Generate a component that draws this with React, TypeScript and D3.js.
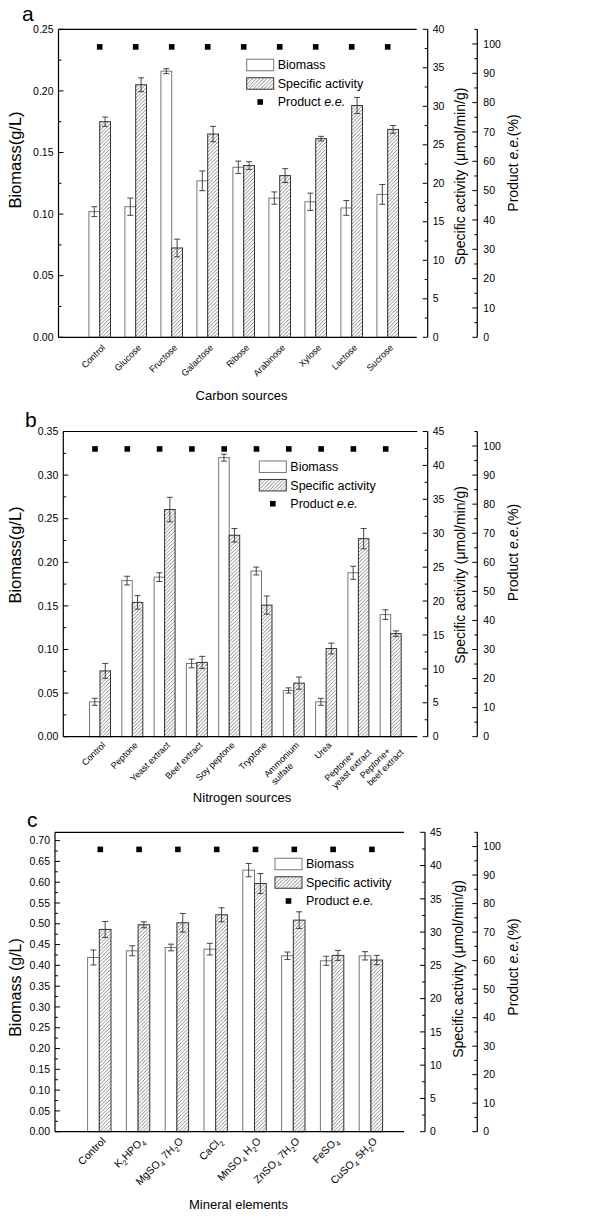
import React from "react";
import * as d3 from "d3";

const FONT = '"Liberation Sans", Arial, Helvetica, sans-serif';

// ---------- Panel a: carbon sources ----------
const carbonCategories = ["Control", "Glucose", "Fructose", "Galactose", "Ribose", "Arabinose", "Xylose", "Lactose", "Sucrose"];
const carbonBiomass = [0.102, 0.106, 0.216, 0.127, 0.138, 0.113, 0.110, 0.105, 0.116];
const carbonBiomassErr = [0.004, 0.007, 0.002, 0.008, 0.005, 0.005, 0.007, 0.006, 0.008];
const carbonActivity = [28.0, 32.8, 11.6, 26.4, 22.3, 21.0, 25.8, 30.1, 27.0];
const carbonActivityErr = [0.6, 0.9, 1.15, 1.0, 0.5, 0.9, 0.3, 1.05, 0.5];
const carbonEe = [99, 99, 99, 99, 99, 99, 99, 99, 99];
const carbonBiomassTicks = [0, 0.05, 0.1, 0.15, 0.2, 0.25];
const carbonActivityTicks = [0, 5, 10, 15, 20, 25, 30, 35, 40];

// ---------- Panel b: nitrogen sources ----------
const nitrogenCategories = ["Control", "Peptone", "Yeast extract", "Beef extract", "Soy peptone", "Tryptone", "Ammonium\nsulfate", "Urea", "Peptone+\nyeast extract", "Peptone+\nbeef extract"];
const nitrogenBiomass = [0.040, 0.179, 0.183, 0.084, 0.320, 0.190, 0.053, 0.040, 0.188, 0.140];
const nitrogenBiomassErr = [0.004, 0.005, 0.005, 0.005, 0.004, 0.0045, 0.003, 0.004, 0.0075, 0.0055];
const nitrogenActivity = [9.7, 19.8, 33.5, 10.95, 29.7, 19.4, 7.9, 13.0, 29.2, 15.2];
const nitrogenActivityErr = [1.1, 1.0, 1.8, 0.9, 1.0, 1.35, 0.9, 0.8, 1.5, 0.4];
const nitrogenEe = [99, 99, 99, 99, 99, 99, 99, 99, 99, 99];
const nitrogenBiomassTicks = [0, 0.05, 0.1, 0.15, 0.2, 0.25, 0.3, 0.35];
const nitrogenActivityTicks = [0, 5, 10, 15, 20, 25, 30, 35, 40, 45];

// ---------- Panel c: mineral elements ----------
const mineralCategories = ["Control", "K_2HPO_4", "MgSO_4 7H_2O", "CaCl_2", "MnSO_4 H_2O", "ZnSO_4 7H_2O", "FeSO_4", "CuSO_4 5H_2O"];
const mineralBiomass = [0.419, 0.435, 0.443, 0.439, 0.629, 0.423, 0.411, 0.423];
const mineralBiomassErr = [0.018, 0.012, 0.008, 0.014, 0.016, 0.009, 0.011, 0.010];
const mineralActivity = [30.4, 31.1, 31.4, 32.6, 37.3, 31.8, 26.5, 25.8];
const mineralActivityErr = [1.2, 0.45, 1.4, 1.05, 1.5, 1.25, 0.75, 0.7];
const mineralEe = [99, 99, 99, 99, 99, 99, 99, 99];
const mineralBiomassTicks = [0, 0.05, 0.1, 0.15, 0.2, 0.25, 0.3, 0.35, 0.4, 0.45, 0.5, 0.55, 0.6, 0.65, 0.7];
const mineralActivityTicks = [0, 5, 10, 15, 20, 25, 30, 35, 40, 45];

const eeTicks = [0, 10, 20, 30, 40, 50, 60, 70, 80, 90, 100];

type Cfg = {
  id: string;
  letter: string;
  letterPos: [number, number];
  categories: string[];
  biomass: number[];
  biomassErr: number[];
  activity: number[];
  activityErr: number[];
  ee: number[];
  biomassTicks: number[];
  biomassMax: number;
  biomassFmt: string;
  activityTicks: number[];
  activityMax: number;
  eeMax: number;
  left: number;
  right: number;
  top: number;
  bottom: number;
  specX: number;
  prodX: number;
  firstCenter: number;
  step: number;
  barW: number;
  markerOffset: number;
  labelSize: number;
  labelDx: number;
  labelDy: number;
  xTitle: string;
  xTitlePos: [number, number];
  yTitle: string;
  yTitlePos: [number, number];
  yTitleSize: number;
  specTitlePos: [number, number];
  prodTitlePos: [number, number];
  legend: [number, number];
};

let measureCtx: CanvasRenderingContext2D | null = null;
function measure(text: string, size: number) {
  if (!measureCtx) {
    const c = document.createElement("canvas");
    measureCtx = c.getContext("2d");
  }
  if (!measureCtx) return text.length * size * 0.5;
  measureCtx.font = `${size}px "Liberation Sans", Arial, sans-serif`;
  return measureCtx.measureText(text).width;
}

function chem(label: string, size: number) {
  const parts = label.split(/(_\d)/).filter((p) => p.length > 0);
  let shift = 0;
  const sub = size * 0.3;
  return parts.map((p, i) => {
    if (p.startsWith("_")) {
      const dy = sub - shift;
      shift = sub;
      return (
        <tspan key={i} dy={dy} fontSize={size * 0.68}>
          {p.slice(1)}
        </tspan>
      );
    }
    const dy = -shift;
    shift = 0;
    return (
      <tspan key={i} dy={dy}>
        {p}
      </tspan>
    );
  });
}

function minors(ticks: number[], max: number) {
  const step = ticks[1] - ticks[0];
  const out: number[] = [];
  ticks.forEach((t) => {
    const m = t + step / 2;
    if (m <= max + 1e-9) out.push(m);
  });
  return out;
}

function Panel({ cfg }: { cfg: Cfg }) {
  const n = cfg.categories.length;
  const x = d3
    .scaleBand<string>()
    .domain(cfg.categories)
    .range([cfg.firstCenter - cfg.step / 2, cfg.firstCenter + cfg.step * (n - 0.5)])
    .padding(0);
  const cx = (c: string) => (x(c) as number) + x.bandwidth() / 2;
  const yB = d3.scaleLinear().domain([0, cfg.biomassMax]).range([cfg.bottom, cfg.top]);
  const yA = d3.scaleLinear().domain([0, cfg.activityMax]).range([cfg.bottom, cfg.top]);
  const yE = d3.scaleLinear().domain([0, cfg.eeMax]).range([cfg.bottom, cfg.top]);
  const fmtB = d3.format(cfg.biomassFmt);
  const w = cfg.barW;
  const cap = 3;
  const errColor = "#333";
  const tickLen = 5;
  const minorLen = 3;
  const tickFont = 10.5;
  const lh = cfg.labelSize * 1.15;

  return (
    <g>
      <text x={cfg.letterPos[0]} y={cfg.letterPos[1]} fontSize={21} fontFamily={FONT}>
        {cfg.letter}
      </text>

      {/* bars */}
      {cfg.categories.map((c, i) => {
        const c0 = cx(c);
        return (
          <g key={c}>
            <rect x={c0 - w} y={yB(cfg.biomass[i])} width={w} height={cfg.bottom - yB(cfg.biomass[i])} fill="#fff" stroke="#777" strokeWidth={1} />
            <rect x={c0} y={yA(cfg.activity[i])} width={w} height={cfg.bottom - yA(cfg.activity[i])} fill="url(#hatch)" stroke="#333" strokeWidth={1} />
            {(() => {
              const bx = c0 - w / 2;
              const y1 = yB(cfg.biomass[i] - cfg.biomassErr[i]);
              const y2 = yB(cfg.biomass[i] + cfg.biomassErr[i]);
              return (
                <g stroke={errColor} strokeWidth={0.9}>
                  <line x1={bx} x2={bx} y1={y1} y2={y2} />
                  <line x1={bx - cap} x2={bx + cap} y1={y1} y2={y1} />
                  <line x1={bx - cap} x2={bx + cap} y1={y2} y2={y2} />
                </g>
              );
            })()}
            {(() => {
              const bx = c0 + w / 2;
              const y1 = yA(cfg.activity[i] - cfg.activityErr[i]);
              const y2 = yA(cfg.activity[i] + cfg.activityErr[i]);
              return (
                <g stroke={errColor} strokeWidth={0.9}>
                  <line x1={bx} x2={bx} y1={y1} y2={y2} />
                  <line x1={bx - cap} x2={bx + cap} y1={y1} y2={y1} />
                  <line x1={bx - cap} x2={bx + cap} y1={y2} y2={y2} />
                </g>
              );
            })()}
            <rect x={c0 + cfg.markerOffset - 2.8} y={yE(cfg.ee[i]) - 2.8} width={5.6} height={5.6} fill="#000" />
          </g>
        );
      })}

      {/* frame: bottom and top lines, left axis */}
      <line x1={cfg.left} x2={cfg.right} y1={cfg.bottom} y2={cfg.bottom} stroke="#000" strokeWidth={1.2} />
      <line x1={cfg.left} x2={cfg.right} y1={cfg.top} y2={cfg.top} stroke="#000" strokeWidth={1.2} />
      <line x1={cfg.left} x2={cfg.left} y1={cfg.top} y2={cfg.bottom} stroke="#000" strokeWidth={1.2} />

      {/* left ticks */}
      {cfg.biomassTicks.map((t) => (
        <g key={"b" + t}>
          <line x1={cfg.left} x2={cfg.left + tickLen} y1={yB(t)} y2={yB(t)} stroke="#000" strokeWidth={1} />
          <text x={cfg.left - 5} y={yB(t)} dy="0.35em" textAnchor="end" fontSize={tickFont} fontFamily={FONT}>
            {fmtB(t)}
          </text>
        </g>
      ))}
      {minors(cfg.biomassTicks, cfg.biomassMax).map((t) => (
        <line key={"bm" + t} x1={cfg.left} x2={cfg.left + minorLen} y1={yB(t)} y2={yB(t)} stroke="#000" strokeWidth={1} />
      ))}

      {/* specific activity axis */}
      <line x1={cfg.specX} x2={cfg.specX} y1={cfg.top} y2={cfg.bottom} stroke="#000" strokeWidth={1.2} />
      {cfg.activityTicks.map((t) => (
        <g key={"a" + t}>
          <line x1={cfg.specX} x2={cfg.specX - tickLen} y1={yA(t)} y2={yA(t)} stroke="#000" strokeWidth={1} />
          <text x={cfg.specX + 5} y={yA(t)} dy="0.35em" textAnchor="start" fontSize={tickFont} fontFamily={FONT}>
            {t}
          </text>
        </g>
      ))}
      {minors(cfg.activityTicks, cfg.activityMax).map((t) => (
        <line key={"am" + t} x1={cfg.specX} x2={cfg.specX - minorLen} y1={yA(t)} y2={yA(t)} stroke="#000" strokeWidth={1} />
      ))}

      {/* product e.e. axis */}
      <line x1={cfg.prodX} x2={cfg.prodX} y1={cfg.top} y2={cfg.bottom} stroke="#000" strokeWidth={1.2} />
      {eeTicks.map((t) => (
        <g key={"e" + t}>
          <line x1={cfg.prodX} x2={cfg.prodX - tickLen} y1={yE(t)} y2={yE(t)} stroke="#000" strokeWidth={1} />
          <text x={cfg.prodX + 6} y={yE(t)} dy="0.35em" textAnchor="start" fontSize={tickFont} fontFamily={FONT}>
            {t}
          </text>
        </g>
      ))}
      {minors(eeTicks, cfg.eeMax).map((t) => (
        <line key={"em" + t} x1={cfg.prodX} x2={cfg.prodX - minorLen} y1={yE(t)} y2={yE(t)} stroke="#000" strokeWidth={1} />
      ))}

      {/* category labels */}
      {cfg.categories.map((c) => {
        const px = cx(c) + cfg.labelDx;
        const py = cfg.bottom + cfg.labelDy;
        const lines = c.split("\n");
        if (lines.length === 1) {
          return (
            <text key={"l" + c} transform={`translate(${px},${py}) rotate(-45)`} textAnchor="end" fontSize={cfg.labelSize} fontFamily={FONT}>
              {chem(c, cfg.labelSize)}
            </text>
          );
        }
        const widths = lines.map((l) => measure(l, cfg.labelSize));
        const wmax = Math.max(...widths);
        return (
          <g key={"l" + c} transform={`translate(${px},${py}) rotate(-45)`}>
            {lines.map((l, k) => (
              <text key={k} x={-wmax} y={k * lh} textAnchor="start" fontSize={cfg.labelSize} fontFamily={FONT}>
                {l}
              </text>
            ))}
          </g>
        );
      })}

      {/* axis titles */}
      <text x={cfg.xTitlePos[0]} y={cfg.xTitlePos[1]} textAnchor="middle" fontSize={13} fontFamily={FONT}>
        {cfg.xTitle}
      </text>
      <text transform={`translate(${cfg.yTitlePos[0]},${cfg.yTitlePos[1]}) rotate(-90)`} textAnchor="middle" fontSize={cfg.yTitleSize} fontFamily={FONT}>
        {cfg.yTitle}
      </text>
      <text transform={`translate(${cfg.specTitlePos[0]},${cfg.specTitlePos[1]}) rotate(-90)`} textAnchor="middle" fontSize={14} fontFamily={FONT}>
        Specific activity (μmol/min/g)
      </text>
      <text transform={`translate(${cfg.prodTitlePos[0]},${cfg.prodTitlePos[1]}) rotate(-90)`} textAnchor="middle" fontSize={14} fontFamily={FONT}>
        Product <tspan fontStyle="italic">e.e.</tspan>(%)
      </text>

      {/* legend */}
      {(() => {
        const [lx, ly] = cfg.legend;
        const gap = 18.5;
        const rw = 27;
        const rh = 11.5;
        const tx = lx + rw + 4;
        return (
          <g fontFamily={FONT} fontSize={12.5}>
            <rect x={lx} y={ly - rh / 2} width={rw} height={rh} fill="#fff" stroke="#777" strokeWidth={1} />
            <text x={tx} y={ly} dy="0.35em">Biomass</text>
            <rect x={lx} y={ly + gap - rh / 2} width={rw} height={rh} fill="url(#hatch)" stroke="#333" strokeWidth={1} />
            <text x={tx} y={ly + gap} dy="0.35em">Specific activity</text>
            <rect x={lx + rw / 2 - 2.8} y={ly + 2 * gap - 2.8} width={5.6} height={5.6} fill="#000" />
            <text x={tx} y={ly + 2 * gap} dy="0.35em">
              Product <tspan fontStyle="italic">e.e.</tspan>
            </text>
          </g>
        );
      })()}
    </g>
  );
}

const panelA: Cfg = {
  id: "a",
  letter: "a",
  letterPos: [22, 21],
  categories: carbonCategories,
  biomass: carbonBiomass,
  biomassErr: carbonBiomassErr,
  activity: carbonActivity,
  activityErr: carbonActivityErr,
  ee: carbonEe,
  biomassTicks: carbonBiomassTicks,
  biomassMax: 0.25,
  biomassFmt: ".2f",
  activityTicks: carbonActivityTicks,
  activityMax: 40,
  eeMax: 105,
  left: 58.5,
  right: 416.7,
  top: 29.3,
  bottom: 337.3,
  specX: 427.7,
  prodX: 477.3,
  firstCenter: 99.7,
  step: 36,
  barW: 10.8,
  markerOffset: 0,
  labelSize: 9,
  labelDx: 6,
  labelDy: 11,
  xTitle: "Carbon sources",
  xTitlePos: [241.5, 400],
  yTitle: "Biomass(g/L)",
  yTitlePos: [21, 160],
  yTitleSize: 16.5,
  specTitlePos: [465, 176.5],
  prodTitlePos: [518, 163],
  legend: [246.7, 65],
};

const panelB: Cfg = {
  id: "b",
  letter: "b",
  letterPos: [25, 426.5],
  categories: nitrogenCategories,
  biomass: nitrogenBiomass,
  biomassErr: nitrogenBiomassErr,
  activity: nitrogenActivity,
  activityErr: nitrogenActivityErr,
  ee: nitrogenEe,
  biomassTicks: nitrogenBiomassTicks,
  biomassMax: 0.35,
  biomassFmt: ".2f",
  activityTicks: nitrogenActivityTicks,
  activityMax: 45,
  eeMax: 105,
  left: 63.3,
  right: 417.3,
  top: 431.5,
  bottom: 736.7,
  specX: 427.7,
  prodX: 477.3,
  firstCenter: 100,
  step: 32.3,
  barW: 10.5,
  markerOffset: -5,
  labelSize: 9,
  labelDx: 6,
  labelDy: 9,
  xTitle: "Nitrogen sources",
  xTitlePos: [242, 802],
  yTitle: "Biomass(g/L)",
  yTitlePos: [21, 555],
  yTitleSize: 16.5,
  specTitlePos: [465, 575],
  prodTitlePos: [518, 552.5],
  legend: [259.3, 466.7],
};

const panelC: Cfg = {
  id: "c",
  letter: "c",
  letterPos: [27, 826.5],
  categories: mineralCategories,
  biomass: mineralBiomass,
  biomassErr: mineralBiomassErr,
  activity: mineralActivity,
  activityErr: mineralActivityErr,
  ee: mineralEe,
  biomassTicks: mineralBiomassTicks,
  biomassMax: 0.72,
  biomassFmt: ".2f",
  activityTicks: mineralActivityTicks,
  activityMax: 45,
  eeMax: 105,
  left: 55,
  right: 404,
  top: 832.3,
  bottom: 1131.7,
  specX: 425,
  prodX: 477.3,
  firstCenter: 99.3,
  step: 38.8,
  barW: 11.7,
  markerOffset: 1,
  labelSize: 10.5,
  labelDx: 7,
  labelDy: 10,
  xTitle: "Mineral elements",
  xTitlePos: [238.5, 1209],
  yTitle: "Biomass (g/L)",
  yTitlePos: [21, 987.5],
  yTitleSize: 16,
  specTitlePos: [463, 969],
  prodTitlePos: [518, 967],
  legend: [275, 864],
};

export default function App() {
  return (
    <svg width={600} height={1227} style={{ position: "absolute", left: 0, top: 0, background: "#fff" }} fontFamily={FONT}>
      <defs>
        <pattern id="hatch" patternUnits="userSpaceOnUse" width={3.6} height={3.6}>
          <rect width={3.6} height={3.6} fill="#fff" />
          <path d="M-0.9,0.9 L0.9,-0.9 M0,3.6 L3.6,0 M2.7,4.5 L4.5,2.7" stroke="#555" strokeWidth={0.7} />
        </pattern>
      </defs>
      <rect width={600} height={1227} fill="#fff" />
      <Panel cfg={panelA} />
      <Panel cfg={panelB} />
      <Panel cfg={panelC} />
    </svg>
  );
}
